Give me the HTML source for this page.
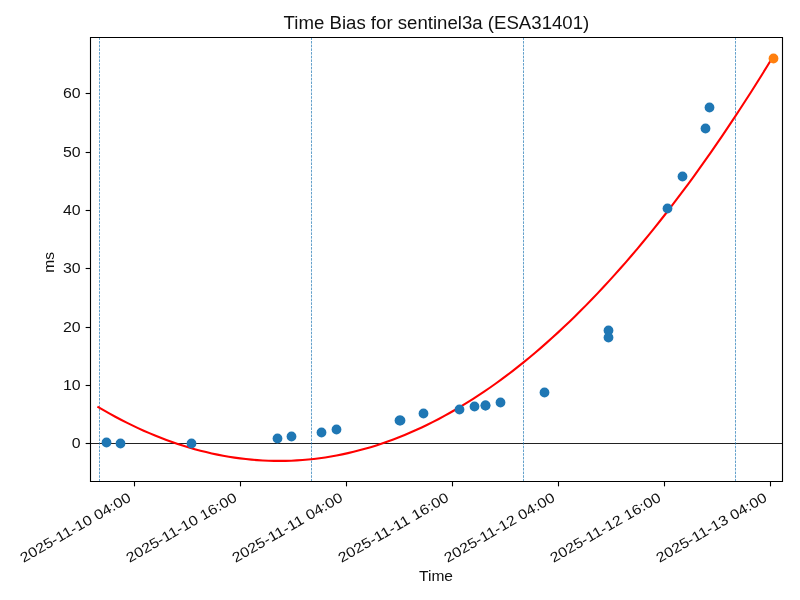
<!DOCTYPE html>
<html><head><meta charset="utf-8"><title>Time Bias for sentinel3a (ESA31401)</title>
<style>html,body{margin:0;padding:0;background:#fff;width:800px;height:600px;overflow:hidden}svg{display:block;will-change:transform}</style>
</head><body>
<svg width="800" height="600" viewBox="0 0 800 600">
<rect x="0" y="0" width="800" height="600" fill="#ffffff"/>
<line x1="90.5" y1="443.5" x2="782.5" y2="443.5" stroke="#222222" stroke-width="1.111"/>
<line x1="99.5" y1="481.5" x2="99.5" y2="37.5" stroke="#1f77b4" stroke-width="0.694" stroke-dasharray="2.569 1.111"/>
<line x1="311.5" y1="481.5" x2="311.5" y2="37.5" stroke="#1f77b4" stroke-width="0.694" stroke-dasharray="2.569 1.111"/>
<line x1="523.5" y1="481.5" x2="523.5" y2="37.5" stroke="#1f77b4" stroke-width="0.694" stroke-dasharray="2.569 1.111"/>
<line x1="735.5" y1="481.5" x2="735.5" y2="37.5" stroke="#1f77b4" stroke-width="0.694" stroke-dasharray="2.569 1.111"/>
<path d="M98.30 407.13 L103.97 410.44 L109.65 413.65 L115.32 416.76 L120.99 419.75 L126.67 422.65 L132.34 425.44 L138.01 428.12 L143.69 430.70 L149.36 433.17 L155.04 435.54 L160.71 437.80 L166.38 439.96 L172.06 442.01 L177.73 443.95 L183.40 445.79 L189.08 447.53 L194.75 449.16 L200.42 450.68 L206.10 452.10 L211.77 453.41 L217.44 454.62 L223.12 455.72 L228.79 456.71 L234.46 457.60 L240.14 458.38 L245.81 459.06 L251.49 459.63 L257.16 460.10 L262.83 460.46 L268.51 460.71 L274.18 460.86 L279.85 460.90 L285.53 460.84 L291.20 460.67 L296.87 460.40 L302.55 460.01 L308.22 459.53 L313.89 458.93 L319.57 458.23 L325.24 457.43 L330.91 456.51 L336.59 455.49 L342.26 454.37 L347.94 453.14 L353.61 451.80 L359.28 450.36 L364.96 448.81 L370.63 447.15 L376.30 445.39 L381.98 443.52 L387.65 441.54 L393.32 439.46 L399.00 437.27 L404.67 434.98 L410.34 432.57 L416.02 430.06 L421.69 427.45 L427.36 424.73 L433.04 421.90 L438.71 418.96 L444.39 415.92 L450.06 412.77 L455.73 409.52 L461.41 406.16 L467.08 402.69 L472.75 399.11 L478.43 395.43 L484.10 391.64 L489.77 387.74 L495.45 383.74 L501.12 379.63 L506.79 375.41 L512.47 371.09 L518.14 366.65 L523.81 362.11 L529.49 357.47 L535.16 352.72 L540.84 347.86 L546.51 342.89 L552.18 337.81 L557.86 332.63 L563.53 327.34 L569.20 321.95 L574.88 316.44 L580.55 310.83 L586.22 305.11 L591.90 299.29 L597.57 293.35 L603.24 287.31 L608.92 281.16 L614.59 274.91 L620.26 268.55 L625.94 262.07 L631.61 255.50 L637.29 248.81 L642.96 242.02 L648.63 235.11 L654.31 228.11 L659.98 220.99 L665.65 213.76 L671.33 206.43 L677.00 198.99 L682.67 191.44 L688.35 183.79 L694.02 176.02 L699.69 168.15 L705.37 160.17 L711.04 152.08 L716.71 143.89 L722.39 135.59 L728.06 127.17 L733.74 118.65 L739.41 110.03 L745.08 101.29 L750.76 92.45 L756.43 83.49 L762.10 74.43 L767.78 65.27 L773.45 55.99" fill="none" stroke="#ff0000" stroke-width="2.083" stroke-linecap="square" stroke-linejoin="round"/>
<circle cx="106.5" cy="442.5" r="4.890" fill="#1f77b4"/>
<circle cx="120.5" cy="443.5" r="4.890" fill="#1f77b4"/>
<circle cx="191.5" cy="443.5" r="4.890" fill="#1f77b4"/>
<circle cx="277.5" cy="438.5" r="4.890" fill="#1f77b4"/>
<circle cx="291.5" cy="436.5" r="4.890" fill="#1f77b4"/>
<circle cx="321.5" cy="432.5" r="4.890" fill="#1f77b4"/>
<circle cx="336.5" cy="429.5" r="4.890" fill="#1f77b4"/>
<circle cx="399.5" cy="420.5" r="4.890" fill="#1f77b4"/>
<circle cx="400.5" cy="420.5" r="4.890" fill="#1f77b4"/>
<circle cx="423.5" cy="413.5" r="4.890" fill="#1f77b4"/>
<circle cx="459.5" cy="409.5" r="4.890" fill="#1f77b4"/>
<circle cx="474.5" cy="406.5" r="4.890" fill="#1f77b4"/>
<circle cx="485.5" cy="405.5" r="4.890" fill="#1f77b4"/>
<circle cx="485.5" cy="405.5" r="4.890" fill="#1f77b4"/>
<circle cx="500.5" cy="402.5" r="4.890" fill="#1f77b4"/>
<circle cx="544.5" cy="392.5" r="4.890" fill="#1f77b4"/>
<circle cx="608.5" cy="330.5" r="4.890" fill="#1f77b4"/>
<circle cx="608.5" cy="337.5" r="4.890" fill="#1f77b4"/>
<circle cx="667.5" cy="208.5" r="4.890" fill="#1f77b4"/>
<circle cx="682.5" cy="176.5" r="4.890" fill="#1f77b4"/>
<circle cx="705.5" cy="128.5" r="4.890" fill="#1f77b4"/>
<circle cx="709.5" cy="107.5" r="4.890" fill="#1f77b4"/>
<circle cx="773.5" cy="58.5" r="4.890" fill="#ff7f0e"/>
<path d="M90.5 481.5 L90.5 37.5 M782.5 481.5 L782.5 37.5 M90.5 481.5 L782.5 481.5 M90.5 37.5 L782.5 37.5" fill="none" stroke="#000" stroke-width="1.111" stroke-linecap="square"/>
<line x1="134.5" y1="481.5" x2="134.5" y2="486.361" stroke="#000" stroke-width="1.111"/>
<line x1="240.5" y1="481.5" x2="240.5" y2="486.361" stroke="#000" stroke-width="1.111"/>
<line x1="346.5" y1="481.5" x2="346.5" y2="486.361" stroke="#000" stroke-width="1.111"/>
<line x1="452.5" y1="481.5" x2="452.5" y2="486.361" stroke="#000" stroke-width="1.111"/>
<line x1="558.5" y1="481.5" x2="558.5" y2="486.361" stroke="#000" stroke-width="1.111"/>
<line x1="664.5" y1="481.5" x2="664.5" y2="486.361" stroke="#000" stroke-width="1.111"/>
<line x1="770.5" y1="481.5" x2="770.5" y2="486.361" stroke="#000" stroke-width="1.111"/>
<line x1="90.5" y1="93.5" x2="85.639" y2="93.5" stroke="#000" stroke-width="1.111"/>
<line x1="90.5" y1="152.5" x2="85.639" y2="152.5" stroke="#000" stroke-width="1.111"/>
<line x1="90.5" y1="210.5" x2="85.639" y2="210.5" stroke="#000" stroke-width="1.111"/>
<line x1="90.5" y1="268.5" x2="85.639" y2="268.5" stroke="#000" stroke-width="1.111"/>
<line x1="90.5" y1="327.5" x2="85.639" y2="327.5" stroke="#000" stroke-width="1.111"/>
<line x1="90.5" y1="385.5" x2="85.639" y2="385.5" stroke="#000" stroke-width="1.111"/>
<line x1="90.5" y1="443.5" x2="85.639" y2="443.5" stroke="#000" stroke-width="1.111"/>
<text transform="translate(23.517 562.940) rotate(-30.0)" font-size="13.889" font-family="'Liberation Sans', sans-serif" fill="#111111" textLength="125.157" lengthAdjust="spacingAndGlyphs">2025-11-10 04:00</text>
<text transform="translate(129.517 562.940) rotate(-30.0)" font-size="13.889" font-family="'Liberation Sans', sans-serif" fill="#111111" textLength="125.157" lengthAdjust="spacingAndGlyphs">2025-11-10 16:00</text>
<text transform="translate(235.516 562.940) rotate(-30.0)" font-size="13.889" font-family="'Liberation Sans', sans-serif" fill="#111111" textLength="125.157" lengthAdjust="spacingAndGlyphs">2025-11-11 04:00</text>
<text transform="translate(341.516 562.940) rotate(-30.0)" font-size="13.889" font-family="'Liberation Sans', sans-serif" fill="#111111" textLength="125.157" lengthAdjust="spacingAndGlyphs">2025-11-11 16:00</text>
<text transform="translate(447.516 562.940) rotate(-30.0)" font-size="13.889" font-family="'Liberation Sans', sans-serif" fill="#111111" textLength="125.157" lengthAdjust="spacingAndGlyphs">2025-11-12 04:00</text>
<text transform="translate(553.515 562.940) rotate(-30.0)" font-size="13.889" font-family="'Liberation Sans', sans-serif" fill="#111111" textLength="125.157" lengthAdjust="spacingAndGlyphs">2025-11-12 16:00</text>
<text transform="translate(659.515 562.940) rotate(-30.0)" font-size="13.889" font-family="'Liberation Sans', sans-serif" fill="#111111" textLength="125.157" lengthAdjust="spacingAndGlyphs">2025-11-13 04:00</text>
<text x="436.000" y="580.970" text-anchor="middle" font-size="14.444" font-family="'Liberation Sans', sans-serif" fill="#111111" textLength="33.990" lengthAdjust="spacingAndGlyphs">Time</text>
<text x="80.698" y="448.257" text-anchor="end" font-size="13.889" font-family="'Liberation Sans', sans-serif" fill="#111111" textLength="8.837" lengthAdjust="spacingAndGlyphs">0</text>
<text x="80.698" y="389.937" text-anchor="end" font-size="13.889" font-family="'Liberation Sans', sans-serif" fill="#111111" textLength="17.673" lengthAdjust="spacingAndGlyphs">10</text>
<text x="80.698" y="331.617" text-anchor="end" font-size="13.889" font-family="'Liberation Sans', sans-serif" fill="#111111" textLength="17.673" lengthAdjust="spacingAndGlyphs">20</text>
<text x="80.698" y="273.297" text-anchor="end" font-size="13.889" font-family="'Liberation Sans', sans-serif" fill="#111111" textLength="17.673" lengthAdjust="spacingAndGlyphs">30</text>
<text x="80.698" y="214.977" text-anchor="end" font-size="13.889" font-family="'Liberation Sans', sans-serif" fill="#111111" textLength="17.673" lengthAdjust="spacingAndGlyphs">40</text>
<text x="80.698" y="156.657" text-anchor="end" font-size="13.889" font-family="'Liberation Sans', sans-serif" fill="#111111" textLength="17.673" lengthAdjust="spacingAndGlyphs">50</text>
<text x="80.698" y="98.337" text-anchor="end" font-size="13.889" font-family="'Liberation Sans', sans-serif" fill="#111111" textLength="17.673" lengthAdjust="spacingAndGlyphs">60</text>
<text x="53.770" y="262.420" transform="rotate(-90.0 53.770 262.420)" text-anchor="middle" font-size="14.444" font-family="'Liberation Sans', sans-serif" fill="#111111" textLength="20.766" lengthAdjust="spacingAndGlyphs">ms</text>
<text x="436.450" y="28.667" text-anchor="middle" font-size="17.500" font-family="'Liberation Sans', sans-serif" fill="#111111" textLength="305.633" lengthAdjust="spacingAndGlyphs">Time Bias for sentinel3a (ESA31401)</text>
</svg>
</body></html>
